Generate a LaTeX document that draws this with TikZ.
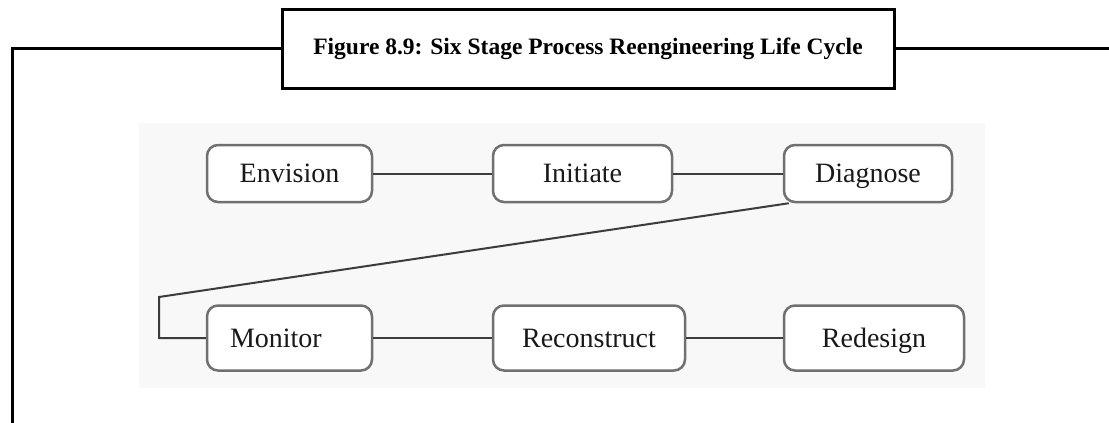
\documentclass[tikz,border=0pt]{standalone}
\usepackage{fontspec}
\setmainfont{Liberation Serif}
\usetikzlibrary{positioning}
\definecolor{boxgray}{RGB}{112,112,112}
\definecolor{linegray}{RGB}{60,60,60}
\definecolor{panelgray}{RGB}{248,248,248}

\begin{document}
\begin{tikzpicture}[
    x=1pt, y=-1pt,
    stage/.style = {draw=boxgray, line width=2.5pt, rounded corners=11pt,
        fill=white, text=black!90, font=\fontsize{28}{32}\selectfont,
        inner sep=0pt, text height=18.5pt, text depth=0pt,
        minimum height=57pt},
    link/.style = {draw=linegray, line width=2pt},
    frame/.style = {draw=black, line width=3pt}
  ]
  \useasboundingbox (0,0) rectangle (1109,423);
  \fill[panelgray] (139,123) rectangle (985,388);

  \node[frame, minimum width=612pt, minimum height=79pt, inner sep=0pt,
    font=\bfseries\fontsize{23.5}{27}\selectfont] (title) at (588,48.5)
    {Figure 8.9: Six Stage Process Reengineering Life Cycle};
  \coordinate (fl) at (12.5,430);
  \coordinate (fr) at (1112,48.5);
  \draw[frame] (title.west) -| (fl);
  \draw[frame] (title.east) -- (fr);

  % upper row
  \foreach \n/\t/\x/\w in {env/Envision/289.5/165, ini/Initiate/582.5/179,
      dia/Diagnose/868/168}
    \node[stage, minimum width=\w pt] (\n) at (\x,173.5) {\t};

  % lower row
  \node[stage, minimum width=165pt, minimum height=65pt, text width=119pt,
    align=left] (mon) at (289.5,338) {Monitor};
  \node[stage, minimum width=192pt, minimum height=65pt] (rec) at (589,338) {Reconstruct};
  \node[stage, minimum width=180pt, minimum height=65pt] (red) at (874,338) {Redesign};

  \coordinate (bend) at (159,297);

  \draw[link] (env) -- (ini);
  \draw[link] (ini) -- (dia);
  \draw[link] ([xshift=6pt]dia.south west) -- (bend) |- (mon.west);
  \draw[link] (mon) -- (rec);
  \draw[link] (rec) -- (red);
\end{tikzpicture}
\end{document}
